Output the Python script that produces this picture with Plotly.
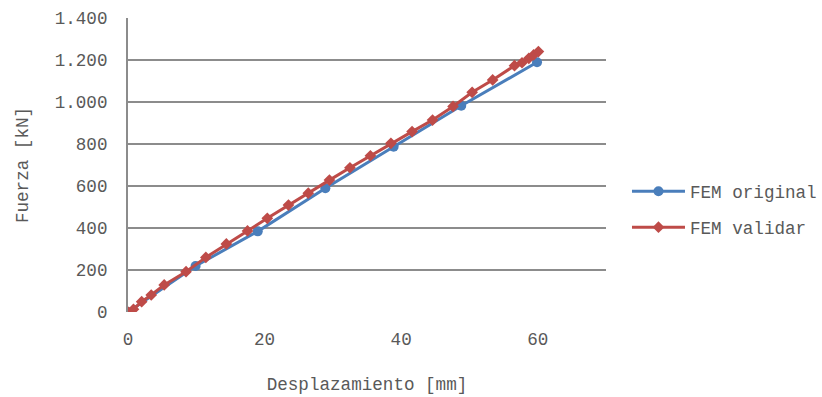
import plotly.graph_objects as go

# FEM original: displacement [mm] vs force [kN]
orig_desp = [0.0, 9.9, 19.0, 28.9, 38.9, 48.8, 59.9]
orig_fuerza = [0, 219, 384, 589, 787, 982, 1189]

# FEM validar: displacement [mm] vs force [kN]
val_desp = [0.0, 0.8, 2.0, 3.4, 5.3, 8.5, 11.4, 14.4, 17.5, 20.4, 23.5, 26.4,
            29.5, 32.5, 35.5, 38.5, 41.6, 44.6, 47.6, 50.4, 53.4, 56.6, 57.7,
            58.7, 59.4, 60.1]
val_fuerza = [0, 13, 49, 81, 129, 192, 260, 324, 386, 446, 509, 566,
              628, 687, 744, 803, 859, 914, 979, 1046, 1105, 1173, 1187,
              1208, 1224, 1240]

y_ticks = [0, 200, 400, 600, 800, 1000, 1200, 1400]
x_ticks = [0, 20, 40, 60]

FONT = "Liberation Mono, Courier New, monospace"
TXT = "#595959"
GRID = "#8c8c8c"
FS = 17.6

fig = go.Figure()
fig.add_trace(go.Scatter(
    x=orig_desp, y=orig_fuerza, name="FEM original", mode="lines+markers",
    legendgroup="a",
    line=dict(color="#4A7EBB", width=3),
    marker=dict(symbol="circle", size=10, color="#4A7EBB"),
))
fig.add_trace(go.Scatter(
    x=val_desp, y=val_fuerza, name="FEM validar", mode="lines+markers",
    legendgroup="b",
    line=dict(color="#BE4B48", width=3),
    marker=dict(symbol="diamond", size=9, color="#BE4B48"),
))

# plot area occupies the left part of the paper; legend sits to its right
fig.update_layout(
    width=822, height=397,
    margin=dict(l=128, r=0, t=18, b=85),
    paper_bgcolor="white", plot_bgcolor="white",
    separators=",.",
    font=dict(family=FONT, size=FS, color=TXT),
    showlegend=True,
    legend=dict(x=0.719, y=0.349, xanchor="left", yanchor="middle",
                font=dict(family=FONT, size=FS, color=TXT),
                itemwidth=53, tracegroupgap=10,
                bgcolor="rgba(0,0,0,0)"),
)
fig.update_xaxes(
    domain=[0, 478 / 694],
    range=[0, 70], tickvals=x_ticks, showgrid=False, zeroline=False,
    showline=False, ticks="", ticklabelstandoff=14,
    title=dict(text="Desplazamiento [mm]", standoff=29,
               font=dict(family=FONT, size=FS, color=TXT)),
)
fig.update_yaxes(
    range=[0, 1400], tickvals=y_ticks, tickformat=",d",
    showgrid=True, gridcolor=GRID, gridwidth=2, zeroline=False,
    showline=True, linecolor=GRID, linewidth=2, ticks="",
    ticklabelstandoff=15,
    title=dict(text="Fuerza [kN]", standoff=22,
               font=dict(family=FONT, size=FS, color=TXT)),
)

fig.write_html("out.html")
